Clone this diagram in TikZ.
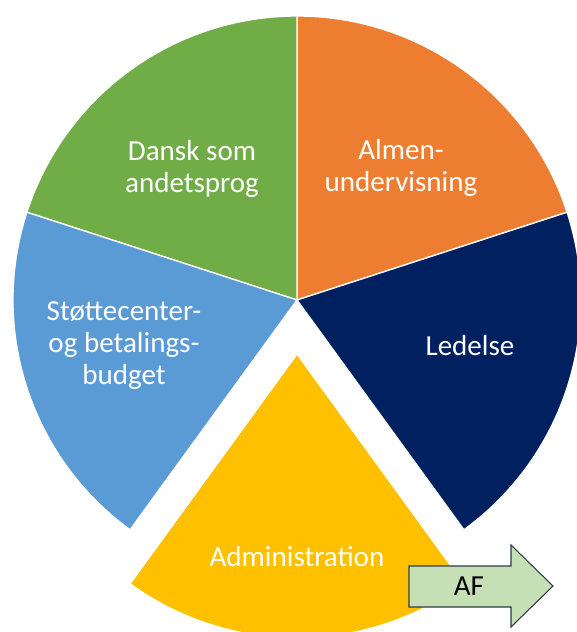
\documentclass[tikz,border=0pt]{standalone}
\usepackage{fontspec}
\setmainfont{Carlito}
\definecolor{segorange}{HTML}{ED7D31}
\definecolor{segnavy}{HTML}{002060}
\definecolor{seggold}{HTML}{FFC000}
\definecolor{segblue}{HTML}{5B9BD5}
\definecolor{seggreen}{HTML}{70AD47}
\definecolor{affill}{HTML}{C5E0B4}
\definecolor{afline}{HTML}{2F3B4C}
\tikzset{
  seglabel/.style={text=white, align=center, inner sep=0pt,
    font=\fontsize{21.8}{24}\selectfont},
  aflabel/.style={text=black, inner sep=0pt,
    font=\fontsize{21.8}{24}\selectfont}
}
\begin{document}
\begin{tikzpicture}[x=0.75pt,y=0.75pt]
      \useasboundingbox (-297,-332) rectangle (280,300);
      \begin{scope}[draw=white, line width=1]
        \filldraw[fill=segorange] (0,0) -- (90:284) arc[start angle=90, end angle=18, radius=284] -- cycle;
        \filldraw[fill=segnavy] (0,0) -- (18:284) arc[start angle=18, end angle=-54, radius=284] -- cycle;
        \filldraw[fill=seggreen] (0,0) -- (162:284) arc[start angle=162, end angle=90, radius=284] -- cycle;
        \filldraw[fill=segblue] (0,0) -- (234:284) arc[start angle=234, end angle=162, radius=284] -- cycle;
        \filldraw[fill=seggold] (0,-54) -- ++(234:284) arc[start angle=234, end angle=306, radius=284] -- cycle;
      \end{scope}
      \draw
        (104,132) node[seglabel] (almen){Almen-\\undervisning}
        (173,-46) node[seglabel] (ledelse){Ledelse}
        (0,-257) node[seglabel] (admin){Administration}
        (-173,-46) node[seglabel] (stotte){Støttecenter-\\og betalings-\\budget}
        (-105,131) node[seglabel] (dansk){Dansk som\\andetsprog};
      \filldraw[fill=affill, draw=afline, line width=0.8]
        (112,-266) -- (214,-266) -- (214,-245) -- (256,-286)
        -- (214,-327) -- (214,-307) -- (112,-307) -- cycle;
      \node[aflabel] (af) at (172,-286) {AF};
    \end{tikzpicture}
\end{document}
